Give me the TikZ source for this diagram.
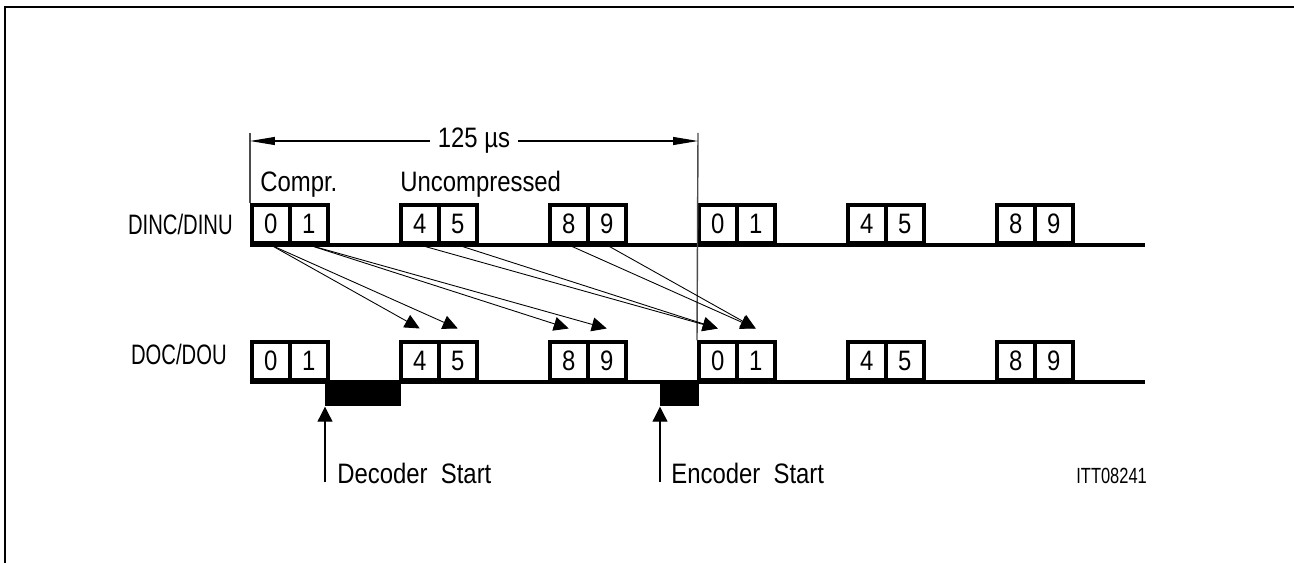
\documentclass[tikz,border=0pt]{standalone}
\usepackage{fontspec}
\setmainfont{Liberation Sans}[FakeStretch=0.85]
\newfontfamily\capfont{Liberation Sans}[FakeStretch=0.72]
\newfontfamily\idfont{Liberation Sans}[FakeStretch=0.75]
\usetikzlibrary{arrows.meta}

\begin{document}
\begin{tikzpicture}[x=0.02cm, y=-0.02cm,
        font=\fontsize{16}{18}\selectfont,
        cell/.style={rectangle, draw, line width=2pt, minimum width=0.76cm, minimum height=0.76cm, inner sep=0pt, anchor=south west},
        block/.style={rectangle, fill=black, inner sep=0pt, minimum height=0.48cm, anchor=north west},
        txt/.style={inner sep=0pt},
        rowname/.style={inner sep=0pt, anchor=base east, font=\capfont\fontsize{16}{18}\selectfont},
        link/.style={line width=0.5pt, -{Triangle[length=0.3cm, width=0.28cm]}},
        startarrow/.style={line width=0.6pt, -{Triangle[length=0.3cm, width=0.3cm]}},
        guide/.style={line width=0.8pt, black!70},
        dimline/.style={line width=0.6pt, {Triangle[length=0.5cm, width=0.16cm]}-{Triangle[length=0.5cm, width=0.16cm]}}]
            \useasboundingbox (0,0) rectangle (1294,563);
            % frame
            \draw[line width=1.4pt] (5,563) -- (5,7) -- (1294,7);

            % DINC/DINU
            \node[rowname] (inLabel) at (233,235) {DINC/DINU};
            \node[cell] (in0a) at (250,245) {0};
            \node[cell] (in1a) at (288,245) {1};
            \node[cell] (in4a) at (399,245) {4};
            \node[cell] (in5a) at (437,245) {5};
            \node[cell] (in8a) at (548,245) {8};
            \node[cell] (in9a) at (586,245) {9};
            \node[cell] (in0b) at (697,245) {0};
            \node[cell] (in1b) at (735,245) {1};
            \node[cell] (in4b) at (846,245) {4};
            \node[cell] (in5b) at (884,245) {5};
            \node[cell] (in8b) at (995,245) {8};
            \node[cell] (in9b) at (1033,245) {9};
            \coordinate (inEnd) at (1145,245);
            \draw[line width=2.2pt] (in0a.south west) -- (inEnd);

            % DOC/DOU
            \node[rowname] (outLabel) at (227,365) {DOC/DOU};
            \node[cell] (out0a) at (250,382) {0};
            \node[cell] (out1a) at (288,382) {1};
            \node[cell] (out4a) at (399,382) {4};
            \node[cell] (out5a) at (437,382) {5};
            \node[cell] (out8a) at (548,382) {8};
            \node[cell] (out9a) at (586,382) {9};
            \node[cell] (out0b) at (697,382) {0};
            \node[cell] (out1b) at (735,382) {1};
            \node[cell] (out4b) at (846,382) {4};
            \node[cell] (out5b) at (884,382) {5};
            \node[cell] (out8b) at (995,382) {8};
            \node[cell] (out9b) at (1033,382) {9};
            \coordinate (outEnd) at (1145,382);
            \node[block, minimum width=1.52cm] (decBlock) at (325,382) {};
            \node[block, minimum width=0.78cm] (encBlock) at (660,382) {};
            \draw[line width=2.2pt] (out0a.south west) -- (outEnd);

            % 125 us
            \coordinate (periodTopL) at (250,133);
            \coordinate (periodTopR) at (698,133);
            \coordinate (periodL) at (250,141);
            \coordinate (periodR) at (698,141);
            \draw[guide] (periodTopL) -- (in0a.north west);
            \draw[guide] (periodTopR) -- (out0b.north west);
            \draw[dimline] (periodL) -- node[fill=white, inner xsep=0.16cm, inner ysep=1pt] {125 µs} (periodR);

            \node[txt, anchor=base west] (comprText) at (260,192) {Compr.};
            \node[txt, anchor=base west] (uncomprText) at (400,192) {Uncompressed};

            % data moves
            \draw[link] (in0a.south) -- ([yshift=0.24cm]out4a.north);
            \draw[link] (in0a.south) -- ([yshift=0.24cm]out5a.north);
            \draw[link] (in1a.south) -- ([yshift=0.24cm]out8a.north);
            \draw[link] (in1a.south) -- ([yshift=0.24cm]out9a.north);
            \draw[link] (in4a.south) -- ([yshift=0.24cm]out0b.north);
            \draw[link] (in5a.south) -- ([yshift=0.24cm]out0b.north);
            \draw[link] (in8a.south) -- ([yshift=0.24cm]out1b.north);
            \draw[link] (in9a.south) -- ([yshift=0.24cm]out1b.north);

            % start marks
            \coordinate (decFoot) at (325,482);
            \coordinate (encFoot) at (660,482);
            \draw[startarrow] (decFoot) -- (decBlock.south west);
            \draw[startarrow] (encFoot) -- (encBlock.south west);
            \node[txt, anchor=base west] (decText) at (337,483) {Decoder\ \ Start};
            \node[txt, anchor=base west] (encText) at (671,483) {Encoder\ \ Start};

            \node[txt, anchor=base west, font=\idfont\fontsize{12.5}{14}\selectfont] (drawingId) at (1076,483) {ITT08241};
        \end{tikzpicture}
\end{document}
